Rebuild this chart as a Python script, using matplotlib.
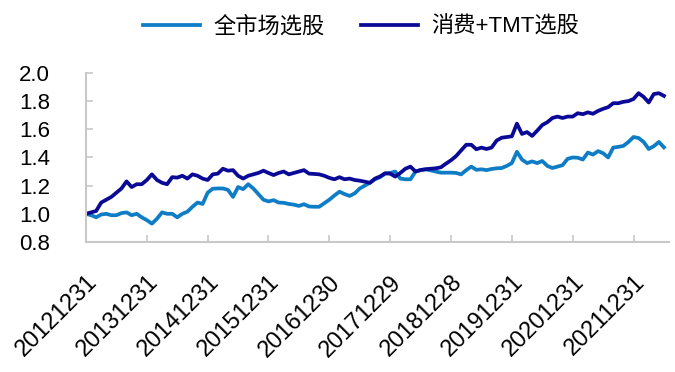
import numpy as np
import matplotlib
matplotlib.use("Agg")
import matplotlib.pyplot as plt

plt.rcParams['font.family'] = ['Liberation Sans', 'Noto Sans CJK SC', 'DejaVu Sans']

# monthly net value, 2012-12 .. 2022-06
all_market = [
    1.00, 0.99, 0.975, 0.995, 1.00, 0.99, 0.99, 1.005, 1.01, 0.99,
    1.00, 0.975, 0.955, 0.93, 0.965, 1.01, 1.00, 1.00, 0.975, 1.00,
    1.015, 1.05, 1.08, 1.07, 1.15, 1.178, 1.18, 1.18, 1.17, 1.12,
    1.19, 1.175, 1.21, 1.18, 1.14, 1.10, 1.088, 1.097, 1.08, 1.078,
    1.07, 1.065, 1.056, 1.068, 1.052, 1.05, 1.05, 1.075, 1.10, 1.13,
    1.157, 1.14, 1.127, 1.145, 1.18, 1.20, 1.22, 1.245, 1.26, 1.285,
    1.29, 1.30, 1.25, 1.245, 1.245, 1.30, 1.31, 1.316, 1.308, 1.30,
    1.292, 1.292, 1.292, 1.29, 1.28, 1.31, 1.335, 1.312, 1.316, 1.31,
    1.318, 1.323, 1.325, 1.34, 1.36, 1.44, 1.385, 1.36, 1.372, 1.36,
    1.375, 1.34, 1.325, 1.335, 1.345, 1.39, 1.40, 1.398, 1.385, 1.435,
    1.42, 1.445, 1.43, 1.40, 1.47, 1.475, 1.482, 1.51, 1.545, 1.538,
    1.51, 1.46, 1.48, 1.51, 1.472,
]
consumer_tmt = [
    1.00, 1.01, 1.02, 1.08, 1.10, 1.12, 1.15, 1.18, 1.23, 1.19,
    1.21, 1.21, 1.24, 1.28, 1.24, 1.22, 1.21, 1.26, 1.257, 1.27,
    1.25, 1.28, 1.27, 1.25, 1.24, 1.28, 1.285, 1.32, 1.306, 1.31,
    1.27, 1.25, 1.27, 1.28, 1.29, 1.306, 1.29, 1.275, 1.29, 1.30,
    1.28, 1.29, 1.30, 1.31, 1.285, 1.283, 1.28, 1.27, 1.255, 1.245,
    1.26, 1.245, 1.25, 1.24, 1.235, 1.228, 1.22, 1.25, 1.265, 1.288,
    1.285, 1.264, 1.29, 1.32, 1.335, 1.30, 1.311, 1.316, 1.32, 1.323,
    1.33, 1.356, 1.38, 1.41, 1.45, 1.49, 1.49, 1.458, 1.47, 1.46,
    1.47, 1.52, 1.54, 1.545, 1.55, 1.64, 1.567, 1.58, 1.553, 1.59,
    1.63, 1.65, 1.68, 1.69, 1.68, 1.69, 1.69, 1.714, 1.707, 1.72,
    1.71, 1.73, 1.745, 1.757, 1.785, 1.785, 1.795, 1.80, 1.815, 1.856,
    1.83, 1.79, 1.85, 1.856, 1.837,
]
tick_pos = [0, 12, 24, 36, 48, 60, 72, 84, 96, 108]
tick_labels = ["20121231", "20131231", "20141231", "20151231", "20161230",
               "20171229", "20181228", "20191231", "20201231", "20211231"]
names = ["全市场选股", "消费+TMT选股"]

x = np.arange(len(all_market))

fig = plt.figure(figsize=(6.75, 3.72), dpi=100)
ax = fig.add_axes([0.1274, 0.3495, 0.8637, 0.4545])

ax.plot(x, all_market, color="#0e7dc6", lw=2.7, label=names[0])
ax.plot(x, consumer_tmt, color="#0a0a96", lw=2.7, label=names[1])

ax.set_xlim(0, 115)
ax.set_ylim(0.8, 2.0)
ax.set_yticks(np.arange(0.8, 2.01, 0.2))
ax.set_yticklabels([f"{v:.1f}" for v in np.arange(0.8, 2.01, 0.2)])
ax.set_xticks(tick_pos)
ax.set_xticklabels(tick_labels, rotation=45, ha="right", va="top", rotation_mode="anchor")

for s in ["top", "right"]:
    ax.spines[s].set_visible(False)
for s in ["left", "bottom"]:
    ax.spines[s].set_color("#c8c8c8")
    ax.spines[s].set_linewidth(1.5)
ax.tick_params(axis="both", direction="in", color="#c8c8c8", width=1.2, length=5,
               labelsize=16, labelcolor="black")
ax.tick_params(axis="y", pad=26)
ax.tick_params(axis="x", pad=21, labelsize=17)

fig.legend(loc="upper center", bbox_to_anchor=(0.535, 1.01), ncol=2, frameon=False,
           fontsize=16, handlelength=2.6, columnspacing=1.6, handletextpad=0.6)

fig.savefig("out.png", dpi=100)
